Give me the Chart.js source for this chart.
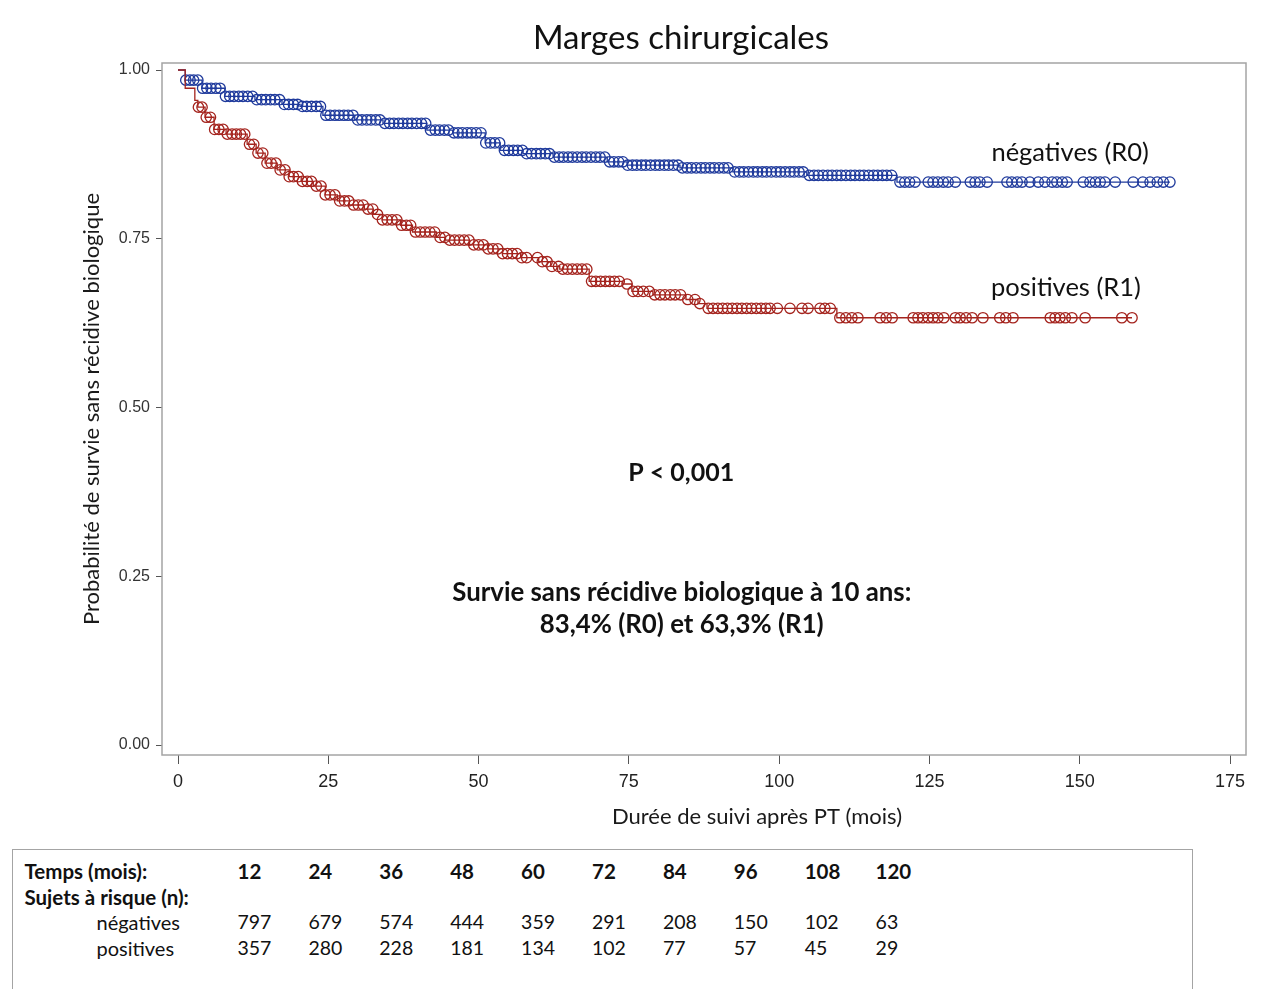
<!DOCTYPE html>
<html lang="fr">
<head>
<meta charset="utf-8">
<title>Marges chirurgicales</title>
<script src="https://cdn.jsdelivr.net/npm/chart.js@4.4.1/dist/chart.umd.min.js"></script>
<style>
  html, body { margin: 0; padding: 0; background: #fff; }
  #wrap { position: relative; width: 1270px; height: 989px; overflow: hidden; background: #fff; }
  #chartBox { position: absolute; left: 0; top: 0; width: 1270px; height: 840px; }
  #risk {
    position: absolute; left: 12px; top: 849px; width: 1181px; height: 170px;
    border: 1.5px solid #a4a4a4; box-sizing: border-box;
    font-family: Lato, "Open Sans", sans-serif; color: #111;
  }
  #risk .cell { position: absolute; white-space: nowrap; line-height: 1; transform: translateY(-50%); }
  #risk .h { font-weight: 700; font-size: 20.5px; }
  #risk .n { font-size: 19.5px; }
  #risk .g { font-size: 20px; }
</style>
</head>
<body>
<div id="wrap">
  <div id="chartBox"><canvas id="km"></canvas></div>
  <div id="risk"></div>
</div>
<script>
// Kaplan-Meier estimates: event times (months) and survival after each event
const negTimes = [0, 1.2, 4.0, 7.8, 12.8, 17.3, 20.3, 24.1, 29.4, 34.1, 41.4, 45.7, 51.1, 53.6, 57.4, 62.4, 71.4, 74.7, 83.5, 92.3, 104.6, 119.6];
const negSurv  = [1, 0.985, 0.973, 0.961, 0.956, 0.949, 0.946, 0.933, 0.926, 0.921, 0.911, 0.907, 0.892, 0.881, 0.876, 0.871, 0.864, 0.859, 0.855, 0.849, 0.844, 0.834];

const posTimes = [0, 1.2, 2.8, 3.3, 4.5, 6.0, 8.0, 11.5, 13.0, 14.5, 16.5, 18.5, 20.5, 22.5, 24.5, 26.5, 28.5, 31.0, 32.5, 34.0, 37.0, 39.0, 43.0, 44.5, 48.5, 51.5, 54.0, 57.0, 60.0, 62.0, 63.5, 68.4, 74.0, 75.5, 79.0, 84.5, 86.5, 88.0, 109.6];
const posSurv  = [1, 0.973, 0.955, 0.945, 0.930, 0.912, 0.905, 0.890, 0.877, 0.862, 0.852, 0.842, 0.835, 0.828, 0.815, 0.806, 0.800, 0.794, 0.786, 0.778, 0.770, 0.760, 0.752, 0.748, 0.741, 0.735, 0.728, 0.722, 0.716, 0.709, 0.705, 0.687, 0.683, 0.672, 0.667, 0.660, 0.654, 0.647, 0.633];

// Censored follow-up times (months)
const negCensor = [
  1.3, 2.0, 2.6, 3.3, 4.1, 4.8, 5.5, 6.3, 7.0, 7.9, 8.6, 9.3, 10.1, 10.8, 11.6, 12.4, 13.1, 13.9, 14.6, 15.4, 16.1, 16.9, 17.7, 18.4, 19.2, 19.9,
  20.7, 21.4, 22.2, 23.0, 23.7, 24.6, 25.3, 26.1, 26.8, 27.6, 28.3, 29.1, 29.9, 30.6, 31.4, 32.1, 32.9, 33.6, 34.4, 35.2, 35.9, 36.7, 37.4, 38.2, 38.9, 39.7, 40.5, 41.2,
  42.0, 42.8, 43.5, 44.3, 45.0, 45.9, 46.6, 47.3, 48.1, 48.8, 49.6, 50.4, 51.2, 52.0, 52.7, 53.5, 54.3, 55.0, 55.8, 56.5, 57.3, 58.0, 58.8, 59.6, 60.3, 61.1, 61.8,
  62.6, 63.4, 64.1, 64.9, 65.6, 66.4, 67.2, 67.9, 68.7, 69.5, 70.2, 71.0, 71.8, 72.5, 73.3, 74.0, 74.8, 75.6, 76.3, 77.1, 77.8, 78.6, 79.4, 80.1, 80.9, 81.6, 82.4, 83.2, 83.9, 84.7, 85.4, 86.2, 87.0, 87.7, 88.5, 89.2, 90.0, 90.8, 91.5,
  92.6, 93.4, 94.1, 94.9, 95.7, 96.4, 97.2, 97.9, 98.7, 99.5, 100.2, 101.0, 101.8, 102.5, 103.3, 104.0, 105.0, 105.8, 106.5, 107.3, 108.1, 108.8, 109.6, 110.3, 111.1, 111.9, 112.6, 113.4, 114.1, 114.9, 115.7, 116.4, 117.2, 117.9, 118.7,
  120.1, 120.9, 121.7, 122.6, 124.8, 125.6, 126.4, 127.3, 128.1, 129.3, 131.8, 132.6, 133.4, 134.6, 137.9, 138.7, 139.6, 140.4, 141.7, 143.1, 144.2, 145.4, 146.2, 147.1, 147.9,
  150.6, 151.7, 152.6, 153.4, 154.2, 155.9, 158.9, 160.5, 161.7, 162.9, 163.9, 165.0
];
const posCensor = [
  3.4, 4.0, 4.7, 5.4, 6.1, 6.8, 7.5, 8.2, 9.0, 9.7, 10.4, 11.1, 11.9, 12.6, 13.3, 14.1, 14.8, 15.5, 16.3, 17.0, 17.8, 18.5, 19.2, 20.0,
  20.7, 21.5, 22.2, 23.0, 23.8, 24.5, 25.3, 26.1, 26.9, 27.7, 28.4, 29.2, 30.0, 30.8, 31.6, 32.4, 33.2, 34.0, 34.8, 35.6, 36.4, 37.2, 38.0, 38.7, 39.5, 40.3,
  41.1, 41.9, 42.7, 43.6, 44.4, 45.2, 46.0, 46.8, 47.6, 48.4, 49.2, 50.0, 50.8, 51.6, 52.4, 53.2, 54.0, 54.8, 55.6, 56.4, 57.2, 58.0, 59.8, 60.6, 61.4, 62.2,
  63.3, 64.0, 64.8, 65.6, 66.4, 67.2, 68.0, 68.8, 69.5, 70.3, 71.1, 71.8, 72.6, 73.4, 74.7, 75.7, 76.5, 77.4, 78.4, 79.3, 80.2, 81.0, 81.9, 82.7, 83.6, 84.8, 86.0, 86.8,
  88.2, 89.0, 89.8, 90.6, 91.4, 92.2, 93.0, 93.8, 94.6, 95.4, 96.2, 97.0, 97.8, 98.5, 99.7, 101.8, 103.8, 104.8, 106.8, 107.6, 108.5,
  110.1, 111.1, 112.1, 113.1, 116.8, 117.8, 118.8, 122.3, 123.1, 123.9, 124.8, 125.6, 126.4, 127.4, 129.3, 130.1, 131.1, 132.1, 133.9, 136.7, 137.7, 138.9,
  145.1, 145.9, 146.7, 147.6, 148.7, 150.9, 157.0, 158.7
];

// Axis ticks
const xTicks = [0, 25, 50, 75, 100, 125, 150, 175];
const yTicks = [0, 0.25, 0.5, 0.75, 1];

// Number at risk table
const riskTimes = [12, 24, 36, 48, 60, 72, 84, 96, 108, 120];
const riskNeg = [797, 679, 574, 444, 359, 291, 208, 150, 102, 63];
const riskPos = [357, 280, 228, 181, 134, 102, 77, 57, 45, 29];

const groupNames = ['négatives', 'positives'];
const blue = '#1f3a9c';
const red = '#a4231d';

function survAt(times, surv, t) {
  let s = surv[0];
  for (let i = 0; i < times.length; i++) if (times[i] <= t) s = surv[i];
  return s;
}
function stepPoints(times, surv, censor) {
  const pts = times.map((t, i) => ({ x: t, y: surv[i] }));
  const last = censor[censor.length - 1];
  pts.push({ x: last, y: survAt(times, surv, last) });
  return pts;
}
function censorPoints(times, surv, censor) {
  return censor.map(t => ({ x: t, y: survAt(times, surv, t) }));
}
const pct = v => (v * 100).toFixed(1).replace('.', ',') + '%';

const FONT = 'Lato, "Open Sans", sans-serif';

const textPlugin = {
  id: 'kmText',
  beforeDatasetsDraw(chart) {
    const { ctx, chartArea: a } = chart;
    ctx.save();
    ctx.strokeStyle = '#a4a4a4';
    ctx.lineWidth = 1.5;
    ctx.strokeRect(a.left, a.top, a.right - a.left, a.bottom - a.top);
    ctx.restore();
  },
  afterDraw(chart) {
    const { ctx, chartArea: a, scales: { x, y } } = chart;
    ctx.save();
    ctx.fillStyle = '#111';
    ctx.textAlign = 'center';
    ctx.textBaseline = 'middle';
    // chart title
    ctx.font = '33px ' + FONT;
    ctx.fillText('Marges chirurgicales', 681, 38);
    // curve labels
    ctx.font = '25.5px ' + FONT;
    ctx.fillText('négatives (R0)', x.getPixelForValue(148.4), y.getPixelForValue(0.877));
    ctx.fillText('positives (R1)', x.getPixelForValue(147.7), y.getPixelForValue(0.677));
    ctx.font = 'bold 25px ' + FONT;
    ctx.fillText('P < 0,001', x.getPixelForValue(83.7), y.getPixelForValue(0.403));
    ctx.font = 'bold 25.8px ' + FONT;
    ctx.fillText('Survie sans récidive biologique à 10 ans:', x.getPixelForValue(83.8), y.getPixelForValue(0.225));
    const r0 = pct(survAt(negTimes, negSurv, 120));
    const r1 = pct(survAt(posTimes, posSurv, 120));
    ctx.fillText(r0 + ' (R0) et ' + r1 + ' (R1)', x.getPixelForValue(83.8), y.getPixelForValue(0.178));
    // x axis title
    ctx.font = '22px ' + FONT;
    ctx.fillStyle = '#1a1a1a';
    ctx.fillText('Durée de suivi après PT (mois)', (a.left + a.right) / 2 + 53, 817);
    ctx.restore();
  }
};

const chart = new Chart(document.getElementById('km'), {
  type: 'scatter',
  data: {
    datasets: [
      { label: groupNames[0], data: stepPoints(negTimes, negSurv, negCensor), showLine: true, stepped: true,
        borderColor: blue, borderWidth: 1.3, pointRadius: 0, fill: false, order: 2 },
      { label: groupNames[1], data: stepPoints(posTimes, posSurv, posCensor), showLine: true, stepped: true,
        borderColor: red, borderWidth: 1.3, pointRadius: 0, fill: false, order: 1 },
      { label: groupNames[0] + ' (censure)', data: censorPoints(negTimes, negSurv, negCensor), showLine: false,
        pointStyle: 'circle', pointRadius: 5.2, borderWidth: 1.3, borderColor: blue, backgroundColor: 'rgba(0,0,0,0)', order: 2 },
      { label: groupNames[1] + ' (censure)', data: censorPoints(posTimes, posSurv, posCensor), showLine: false,
        pointStyle: 'circle', pointRadius: 5.2, borderWidth: 1.3, borderColor: red, backgroundColor: 'rgba(0,0,0,0)', order: 1 }
    ]
  },
  options: {
    responsive: true,
    maintainAspectRatio: false,
    animation: false,
    events: [],
    layout: { padding: { left: 0, right: 24, top: 63, bottom: 0 } },
    plugins: {
      legend: { display: false },
      tooltip: { enabled: false },
      title: { display: false }
    },
    scales: {
      x: {
        type: 'linear',
        min: -2.662, max: 177.66,
        afterBuildTicks: s => { s.ticks = xTicks.map(v => ({ value: v })); },
        afterFit: s => { s.height = 85; },
        grid: { display: true, drawOnChartArea: false, drawTicks: true, tickLength: 9, color: '#555', lineWidth: 1 },
        border: { display: false },
        ticks: { color: '#222', padding: 7, maxRotation: 0, autoSkip: false,
          font: { family: '"Liberation Sans Narrow", "Liberation Sans", Arial, sans-serif', size: 18 } }
      },
      y: {
        type: 'linear',
        min: -0.0148, max: 1.0104,
        afterBuildTicks: s => { s.ticks = yTicks.map(v => ({ value: v })); },
        afterFit: s => { s.width = 162; },
        grid: { display: true, drawOnChartArea: false, drawTicks: true, tickLength: 6, color: '#555', lineWidth: 1 },
        border: { display: false },
        ticks: { color: '#333', padding: 6, autoSkip: false,
          font: { family: '"Liberation Sans", Arial, sans-serif', size: 16 },
          callback: v => Number(v).toFixed(2) },
        title: {
          display: true,
          text: 'Probabilité de survie sans récidive biologique',
          color: '#1a1a1a',
          font: { family: FONT, size: 22, weight: 'normal' },
          padding: { top: 78.8, bottom: 0 }
        }
      }
    }
  },
  plugins: [textPlugin]
});

// Number-at-risk table
(function buildRiskTable() {
  const box = document.getElementById('risk');
  const ox = 13.5, oy = 850.5;
  const colX = i => 238 + i * 70.9 - ox;
  const add = (text, x, yc, cls) => {
    const d = document.createElement('div');
    d.className = 'cell ' + cls;
    d.style.left = x + 'px';
    d.style.top = (yc - oy) + 'px';
    d.textContent = text;
    box.appendChild(d);
  };
  add('Temps (mois):', 25 - ox, 871, 'h');
  add('Sujets à risque (n):', 25 - ox, 897, 'h');
  add(groupNames[0], 97 - ox, 922, 'g');
  add(groupNames[1], 97 - ox, 948, 'g');
  riskTimes.forEach((t, i) => {
    add(String(t), colX(i), 871, 'h');
    add(String(riskNeg[i]), colX(i), 922, 'n');
    add(String(riskPos[i]), colX(i), 948, 'n');
  });
})();
</script>
</body>
</html>
